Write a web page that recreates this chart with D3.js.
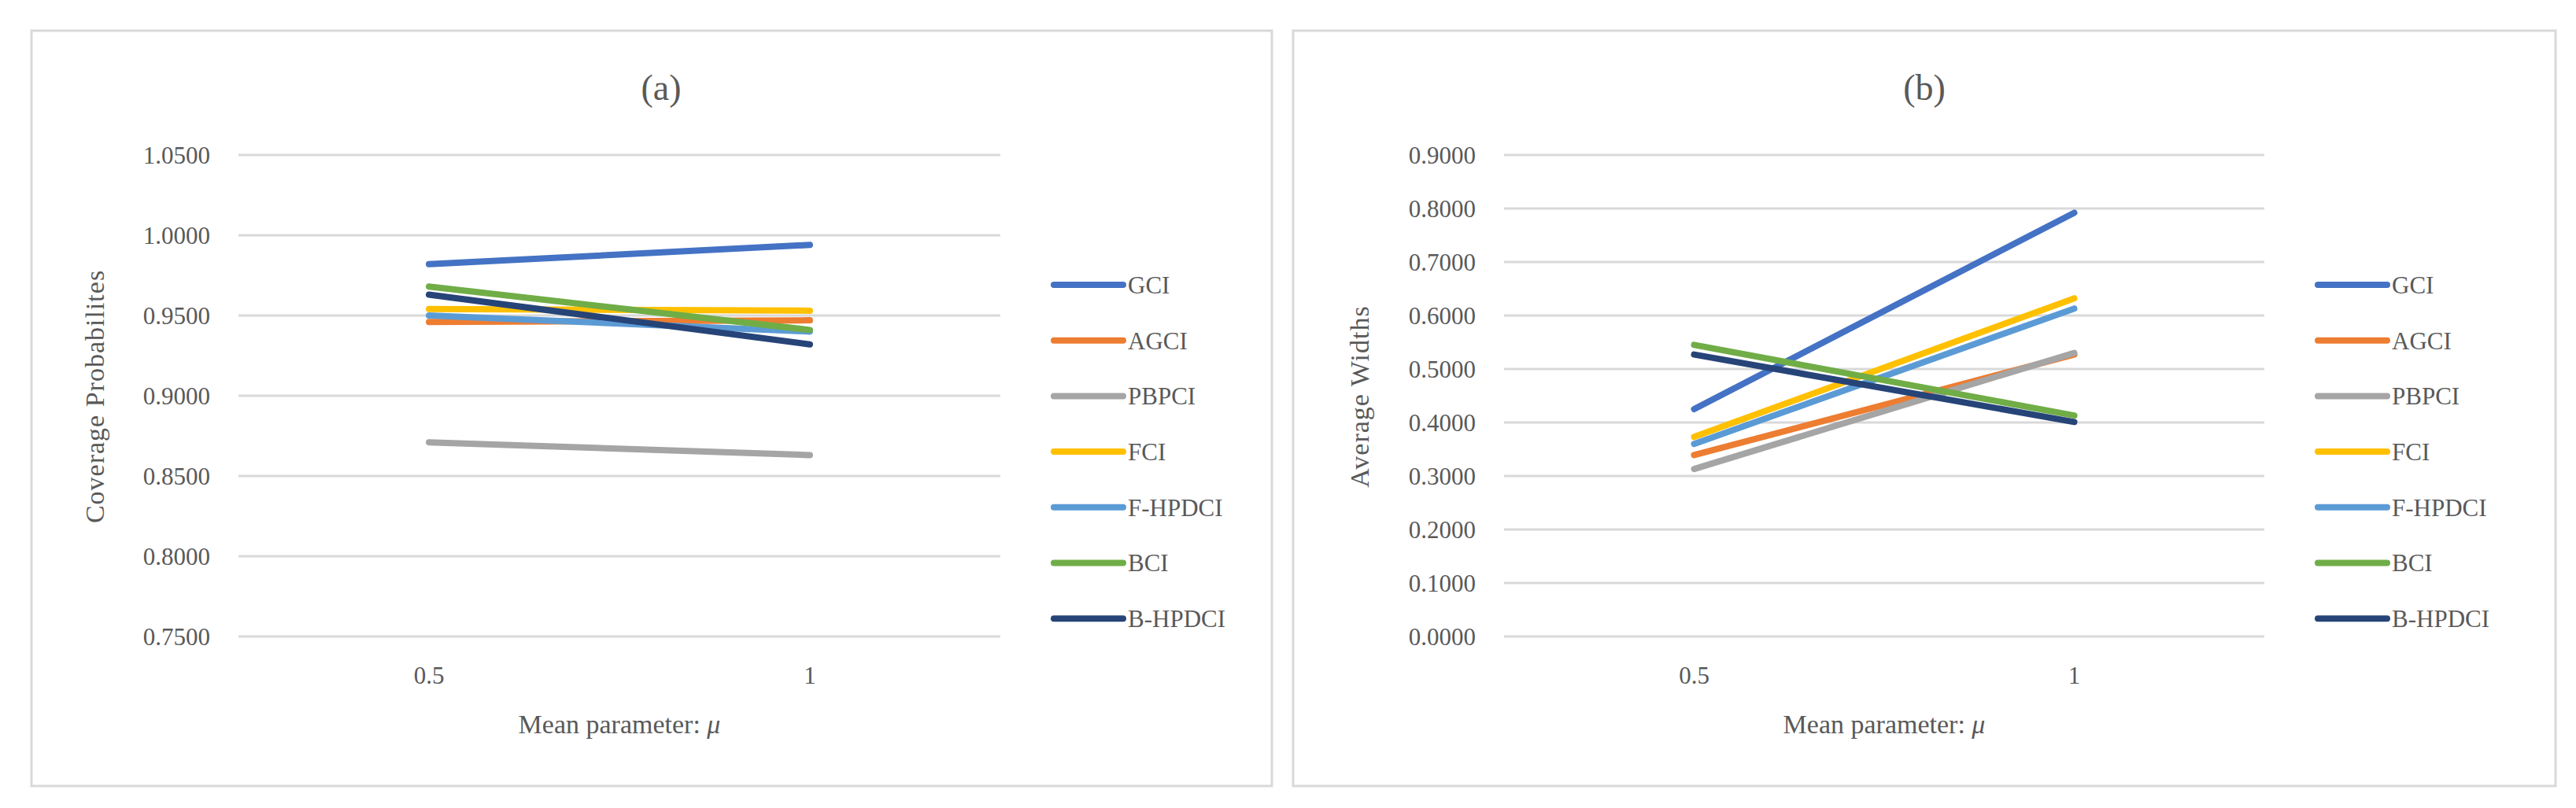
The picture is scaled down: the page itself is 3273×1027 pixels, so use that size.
<!DOCTYPE html>
<html><head><meta charset="utf-8">
<script src="https://cdn.jsdelivr.net/npm/d3@7/dist/d3.min.js"></script>
<style>body{margin:0;background:#fff}svg{display:block}</style></head>
<body><svg id="c" width="3273" height="1027"></svg>
<script>
const categories = ["0.5", "1"];
const seriesNames = ["GCI","AGCI","PBPCI","FCI","F-HPDCI","BCI","B-HPDCI"];
const colors = ["#4472C4","#ED7D31","#A5A5A5","#FFC000","#5B9BD5","#70AD47","#264478"];
const coverageValues = [[0.982,0.994],[0.946,0.947],[0.871,0.863],[0.954,0.953],[0.950,0.940],[0.968,0.941],[0.963,0.932]];
const widthValues = [[0.425,0.792],[0.339,0.527],[0.313,0.530],[0.373,0.632],[0.360,0.613],[0.545,0.413],[0.527,0.401]];
const coverageTicks = [0.75,0.80,0.85,0.90,0.95,1.00,1.05];
const widthTicks = [0,0.1,0.2,0.3,0.4,0.5,0.6,0.7,0.8,0.9];

const svg = d3.select("#c");
const font = "'Liberation Serif','Times New Roman',serif";
const txt = "#595959";

function panel(o){
  const g = svg.append("g");
  g.append("rect").attr("x",o.bx0).attr("y",39).attr("width",o.bx1-o.bx0).attr("height",960)
   .attr("fill","#fff").attr("stroke","#d9d9d9").attr("stroke-width",3);
  const y = d3.scaleLinear().domain(o.domain).range([809,197]);
  const x = d3.scalePoint().domain(categories).range([o.gx0,o.gx1]).padding(0.5);
  g.append("g").selectAll("line").data(o.ticks).join("line")
   .attr("x1",o.gx0).attr("x2",o.gx1).attr("y1",d=>y(d)).attr("y2",d=>y(d))
   .attr("stroke","#d9d9d9").attr("stroke-width",3);
  g.append("g").selectAll("text").data(o.ticks).join("text")
   .attr("x",o.gx0-36).attr("y",d=>y(d)).attr("dy","0.35em").attr("text-anchor","end")
   .attr("font-family",font).attr("font-size",31).attr("fill",txt).text(d=>d.toFixed(4));
  g.append("g").selectAll("text").data(categories).join("text")
   .attr("x",d=>x(d)).attr("y",858).attr("dy","0.35em").attr("text-anchor","middle")
   .attr("font-family",font).attr("font-size",31).attr("fill",txt).text(d=>d);
  const line = d3.line().x((d,i)=>x(categories[i])).y(d=>y(d));
  g.append("g").selectAll("path").data(o.values).join("path")
   .attr("d",d=>line(d)).attr("fill","none").attr("stroke",(d,i)=>colors[i])
   .attr("stroke-width",8).attr("stroke-linecap","round");
  g.append("text").attr("x",o.tx).attr("y",111).attr("dy","0.35em").attr("text-anchor","middle")
   .attr("font-family",font).attr("font-size",46).attr("fill",txt).text(o.title);
  const xt = g.append("text").attr("x",(o.gx0+o.gx1)/2).attr("y",920).attr("dy","0.35em").attr("text-anchor","middle")
   .attr("font-family",font).attr("font-size",34).attr("fill",txt);
  xt.append("tspan").text("Mean parameter: ");
  xt.append("tspan").attr("font-style","italic").text("μ");
  g.append("text").attr("transform",`translate(${o.ytx},504) rotate(-90)`).attr("dy","0.35em")
   .attr("text-anchor","middle").attr("font-family",font).attr("font-size",34).attr("fill",txt)
   .attr("letter-spacing",1).text(o.ytitle);
  const lg = g.append("g").selectAll("g").data(seriesNames).join("g")
   .attr("transform",(d,i)=>`translate(${o.lx},${362+i*70.7})`);
  lg.append("line").attr("x1",0).attr("x2",88).attr("stroke",(d,i)=>colors[i]).attr("stroke-width",8).attr("stroke-linecap","round");
  lg.append("text").attr("x",94).attr("dy","0.35em").attr("font-family",font).attr("font-size",31).attr("fill",txt).text(d=>d);
}
panel({bx0:40,bx1:1616,gx0:303,gx1:1271,domain:[0.75,1.05],ticks:coverageTicks,values:coverageValues,title:"(a)",tx:840,ytitle:"Coverage Probabilites",ytx:120,lx:1339});
panel({bx0:1643,bx1:3247,gx0:1911,gx1:2877,domain:[0,0.9],ticks:widthTicks,values:widthValues,title:"(b)",tx:2445,ytitle:"Average  Widths",ytx:1727,lx:2945});
</script></body></html>
